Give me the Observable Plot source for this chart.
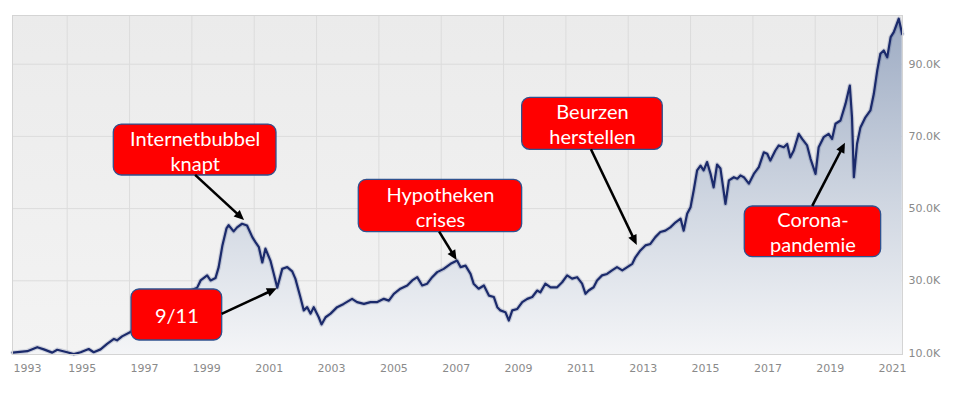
<!DOCTYPE html>
<html><head><meta charset="utf-8">
<script src="https://cdn.jsdelivr.net/npm/d3@7"></script>
<script src="https://cdn.jsdelivr.net/npm/@observablehq/plot@0.6"></script>
<style>body{margin:0;background:#fff;}#chart svg{display:block;}</style>
</head><body><div id="chart"></div>
<script>
// ---- data (decimal year, index value in thousands) ----
const years = [1993.25,1993.72,1994.04,1994.25,1994.52,1994.68,1995.00,1995.21,1995.43,1995.69,1995.85,1996.07,1996.28,1996.50,1996.60,1996.76,1997.03,1997.35,1997.61,1997.86,1998.09,1998.31,1998.51,1998.70,1998.96,1999.17,1999.28,1999.49,1999.60,1999.76,1999.86,1999.98,2000.11,2000.18,2000.34,2000.45,2000.61,2000.77,2000.94,2001.04,2001.15,2001.26,2001.36,2001.52,2001.63,2001.74,2001.90,2002.06,2002.22,2002.32,2002.48,2002.59,2002.70,2002.81,2002.91,2003.07,2003.16,2003.29,2003.45,2003.66,2003.87,2004.14,2004.30,2004.52,2004.73,2004.95,2005.16,2005.32,2005.48,2005.69,2005.91,2006.07,2006.23,2006.39,2006.55,2006.71,2006.87,2007.08,2007.30,2007.51,2007.62,2007.78,2007.94,2008.04,2008.20,2008.37,2008.53,2008.69,2008.80,2008.90,2009.06,2009.17,2009.28,2009.44,2009.60,2009.76,2009.92,2010.08,2010.18,2010.34,2010.51,2010.72,2010.88,2011.04,2011.20,2011.36,2011.52,2011.63,2011.73,2011.89,2012.00,2012.16,2012.32,2012.48,2012.64,2012.81,2012.97,2013.13,2013.23,2013.39,2013.55,2013.71,2013.87,2014.03,2014.19,2014.35,2014.52,2014.68,2014.78,2014.89,2015.00,2015.10,2015.21,2015.32,2015.42,2015.53,2015.64,2015.74,2015.85,2015.96,2016.12,2016.23,2016.39,2016.50,2016.60,2016.71,2016.87,2017.03,2017.19,2017.35,2017.46,2017.56,2017.72,2017.83,2017.99,2018.10,2018.20,2018.31,2018.47,2018.58,2018.74,2018.85,2019.01,2019.11,2019.27,2019.43,2019.54,2019.65,2019.81,2019.97,2020.11,2020.18,2020.24,2020.34,2020.45,2020.61,2020.77,2020.88,2020.99,2021.09,2021.20,2021.31,2021.42,2021.52,2021.68,2021.79];
const values = [10.1,10.5,11.6,11.0,10.1,10.9,10.2,9.7,10.2,11.1,10.2,11.0,12.5,13.9,13.5,14.6,15.8,17.3,19.6,20.7,22.9,24.0,22.0,25.7,27.3,28.1,30.1,31.5,30.1,30.8,33.8,39.8,44.5,45.4,43.7,44.8,45.8,45.3,42.1,40.7,39.3,35.1,38.9,35.6,31.9,28.1,33.3,33.8,32.6,30.6,25.5,21.8,22.7,20.9,22.7,19.9,17.9,19.9,20.9,22.7,23.6,25.0,24.1,23.6,24.1,24.1,25.0,24.5,26.4,27.8,28.7,30.1,31.0,28.7,29.2,31.0,32.4,33.3,34.7,35.6,33.8,34.2,31.9,29.2,27.8,28.7,25.9,25.5,22.7,21.8,21.3,19.0,21.8,22.2,24.1,25.0,25.5,27.3,26.8,29.2,28.2,28.2,29.6,31.5,30.6,31.0,29.2,26.4,27.3,28.2,30.1,31.5,31.9,32.9,33.8,32.9,33.8,34.7,36.5,38.4,39.8,40.2,42.1,43.5,43.9,44.8,46.2,47.2,43.9,48.6,50.4,55.0,60.6,61.9,60.6,62.9,59.7,55.9,62.2,61.1,51.3,57.8,58.7,58.3,59.2,58.7,56.9,59.6,61.5,65.6,65.2,63.3,66.1,67.5,67.0,67.9,64.2,66.1,70.7,69.3,67.5,63.8,59.6,67.0,69.8,70.7,69.3,73.5,74.4,79.0,84.1,75.3,58.7,67.9,72.5,75.3,77.2,81.8,88.3,92.9,93.8,91.9,97.5,98.9,102.6,98.4];
const tickYears = [1993,1995,1997,1999,2001,2003,2005,2007,2009,2011,2013,2015,2017,2019,2021];
const yTicks = [10,30,50,70,90];
const yGrid = [30,50,70,90];

// ---- annotations (data space) ----
const annLabels = ["Internetbubbel\nknapt","9/11","Hypotheken\ncrises","Beurzen\nherstellen","Corona-\npandemie"];
const annBoxX1 = [1996.495,1997.063,2004.355,2009.597,2016.739];
const annBoxX2 = [2001.715,1999.973,2009.597,2014.108,2021.115];
const annBoxY1 = [59.17,13.46,43.46,66.29,36.54];
const annBoxY2 = [73.29,27.59,57.98,80.69,50.58];
const annFromX = [1999.12,1999.97,2006.95,2011.82,2018.92];
const annFromY = [59.2,20.7,43.5,66.3,50.6];
const annToX = [2000.69,2001.74,2007.51,2013.29,2019.97];
const annToY = [46.7,27.8,35.6,39.8,68.1];

const xDomain = [1993.245, 2021.80];
const yDomain = [9.58, 103.5];
const data = years.map((x, i) => ({x, v: values[i]}));
const annIdx = annLabels.map((_, i) => i);

const NS = "http://www.w3.org/2000/svg";
function el(name, attrs) {
  const e = document.createElementNS(NS, name);
  for (const k in attrs) e.setAttribute(k, attrs[k]);
  return e;
}
function defsMark(index, scales, vals, dims) {
  const defs = el("defs", {});
  const top = dims.marginTop, bottom = dims.height - dims.marginBottom;
  const ag = el("linearGradient", {id: "areaGrad", gradientUnits: "userSpaceOnUse", x1: 0, x2: 0, y1: top, y2: bottom});
  ag.append(el("stop", {offset: "0", "stop-color": "#9dabc3"}), el("stop", {offset: "0.55", "stop-color": "#cfd6e1"}), el("stop", {offset: "1", "stop-color": "#f4f5f7"}));
  const bg = el("linearGradient", {id: "bgGrad", gradientUnits: "userSpaceOnUse", x1: 0, x2: 0, y1: top, y2: bottom});
  bg.append(el("stop", {offset: "0", "stop-color": "#ebebeb"}), el("stop", {offset: "1", "stop-color": "#f3f3f3"}));
  defs.append(ag, bg);
  return defs;
}
function annotationMark(index, scales) {
  const g = el("g", {});
  const X = scales.x, Y = scales.y;
  for (const i of annIdx) {
    const x1 = X(annBoxX1[i]), x2 = X(annBoxX2[i]);
    const y1 = Y(annBoxY2[i]), y2 = Y(annBoxY1[i]);
    g.append(el("rect", {x: x1, y: y1, width: x2 - x1, height: y2 - y1, rx: 8, ry: 8, fill: "#ff0000", stroke: "#2f528f", "stroke-width": 1.3}));
  }
  for (const i of annIdx) {
    const ax = X(annFromX[i]), ay = Y(annFromY[i]);
    const bx = X(annToX[i]), by = Y(annToY[i]);
    const dx = bx - ax, dy = by - ay, L = Math.hypot(dx, dy);
    const ux = dx / L, uy = dy / L, hl = 10, hw = 4.5;
    const cx = bx - ux * hl, cy = by - uy * hl;
    g.append(el("line", {x1: ax, y1: ay, x2: cx + ux, y2: cy + uy, stroke: "#000", "stroke-width": 2.6}));
    g.append(el("polygon", {points: `${bx},${by} ${cx - uy * hw},${cy + ux * hw} ${cx + uy * hw},${cy - ux * hw}`, fill: "#000"}));
  }
  return g;
}

const chart = Plot.plot({
  width: 958, height: 396,
  marginLeft: 12, marginRight: 56, marginTop: 15, marginBottom: 42,
  style: {fontFamily: "DejaVu Sans", fontSize: "11px", background: "transparent", overflow: "visible"},
  x: {type: "linear", domain: xDomain, axis: null},
  y: {type: "linear", domain: yDomain, axis: null},
  marks: [
    defsMark,
    Plot.frame({fill: "url(#bgGrad)"}),
    Plot.gridY(yGrid, {stroke: "#dcdcdc", strokeOpacity: 1}),
    Plot.gridX(tickYears.filter(d => d > xDomain[0]), {stroke: "#dcdcdc", strokeOpacity: 1}),
    Plot.areaY(data, {x: "x", y1: yDomain[0], y2: "v", fill: "url(#areaGrad)"}),
    Plot.line(data, {x: "x", y: "v", stroke: "#1b2a6b", strokeWidth: 4.5, strokeOpacity: 0.18}),
    Plot.line(data, {x: "x", y: "v", stroke: "#1b2a6b", strokeWidth: 2.2}),
    Plot.frame({stroke: "#d4d4d4"}),
    Plot.axisY({ticks: yTicks, anchor: "right", tickSize: 0, tickPadding: 6, tickFormat: d => d.toFixed(1) + "K", fill: "#8a8a8a", fontSize: 11, label: null}),
    Plot.text(tickYears, {x: d => Math.max(d, xDomain[0]), frameAnchor: "bottom", dy: 17, dx: 1, textAnchor: "start", text: d => String(d), fill: "#8a8a8a", fontSize: 11}),
    annotationMark,
    Plot.text(annIdx, {x: i => (annBoxX1[i] + annBoxX2[i]) / 2, y: i => (annBoxY1[i] + annBoxY2[i]) / 2, text: i => annLabels[i], fill: "white", fontSize: 20, fontFamily: "Lato", lineHeight: 1.25})
  ]
});
document.getElementById("chart").append(chart);
</script>
</body></html>
